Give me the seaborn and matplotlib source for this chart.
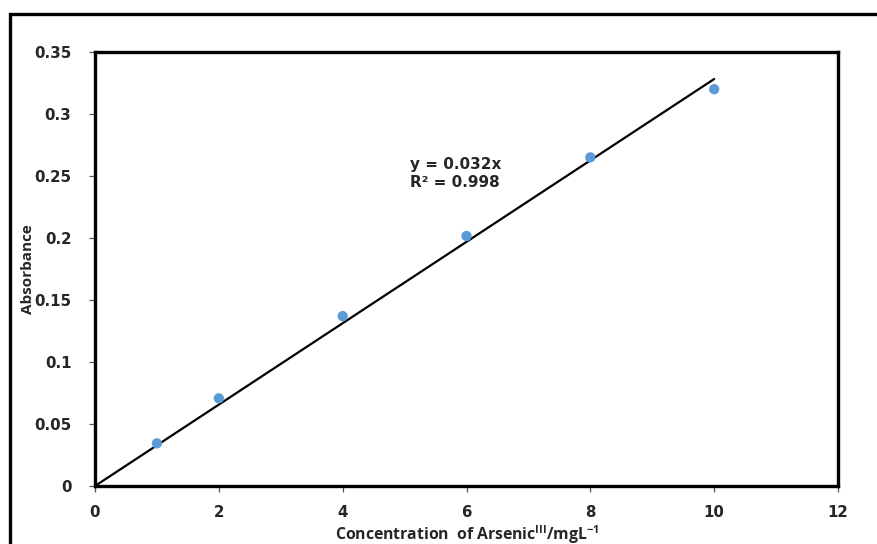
import numpy as np
import matplotlib
matplotlib.use("Agg")
import matplotlib.pyplot as plt
import matplotlib.patches as patches
from matplotlib.ticker import FuncFormatter
import seaborn as sns

# calibration data
concentration = [1, 2, 4, 6, 8, 10]
absorbance = [0.0344, 0.0707, 0.137, 0.2016, 0.265, 0.320]

x_ticks = [0, 2, 4, 6, 8, 10, 12]
y_ticks = [0, 0.05, 0.1, 0.15, 0.2, 0.25, 0.3, 0.35]

eq_text = "y = 0.032x\nR\u00b2 = 0.998"
x_label = r"Concentration  of Arsenic$^{\mathbf{III}}$/mgL$^{\mathbf{-1}}$"
y_label = "Absorbance"

sns.set_style("white")
plt.rcParams["font.family"] = ["DejaVu Sans"]
plt.rcParams["mathtext.fontset"] = "custom"
plt.rcParams["mathtext.rm"] = "Open Sans"
plt.rcParams["mathtext.bf"] = "Open Sans:bold"

x = np.array(concentration, dtype=float)
y = np.array(absorbance, dtype=float)
# linear fit forced through the origin
slope = np.sum(x * y) / np.sum(x * x)
x_fit = np.array([0.0, x.max()])

fig = plt.figure(figsize=(8.77, 5.44), dpi=100)
ax = fig.add_axes([95 / 877, 58 / 544, 743 / 877, 434 / 544])

sns.lineplot(x=x_fit, y=slope * x_fit, ax=ax, color="black", linewidth=1.6)
sns.scatterplot(x=x, y=y, ax=ax, color="#5B9BD5", s=55, edgecolor="none", zorder=3)

ax.set_xlim(0, 12)
ax.set_ylim(0, 0.35)
ax.set_xticks(x_ticks)
ax.set_yticks(y_ticks)
ax.yaxis.set_major_formatter(FuncFormatter(lambda v, p: "%g" % v))

for s in ax.spines.values():
    s.set_visible(True)
    s.set_color("black")
    s.set_linewidth(2.4)

ax.tick_params(axis="both", which="major", direction="out", length=4,
               width=0.9, color="#555555", labelsize=10.8)
ax.tick_params(axis="y", pad=13, left=True)
ax.tick_params(axis="x", pad=10, bottom=True)
for lab in ax.get_xticklabels() + ax.get_yticklabels():
    lab.set_fontweight("bold")

ax.set_xlabel(x_label, family="Open Sans", fontweight="bold", fontsize=11.3)
ax.xaxis.set_label_coords(0.5, -0.085)
ax.set_ylabel(y_label, family="Open Sans", fontweight="bold", fontsize=11)
ax.yaxis.set_label_coords(-0.081, 0.5)

ax.text(5.82, 0.252, eq_text, ha="center", va="center", fontsize=11,
        fontweight="bold", linespacing=1.3, multialignment="center")

# outer chart frame, running past the right and bottom edges
frame = patches.Rectangle((10 / 877, -0.05), 1.2, 0.05 + 1 - 14 / 544,
                          transform=fig.transFigure, fill=False,
                          edgecolor="black", linewidth=2.4, clip_on=False)
fig.patches.append(frame)

fig.savefig("out.png", dpi=100)
